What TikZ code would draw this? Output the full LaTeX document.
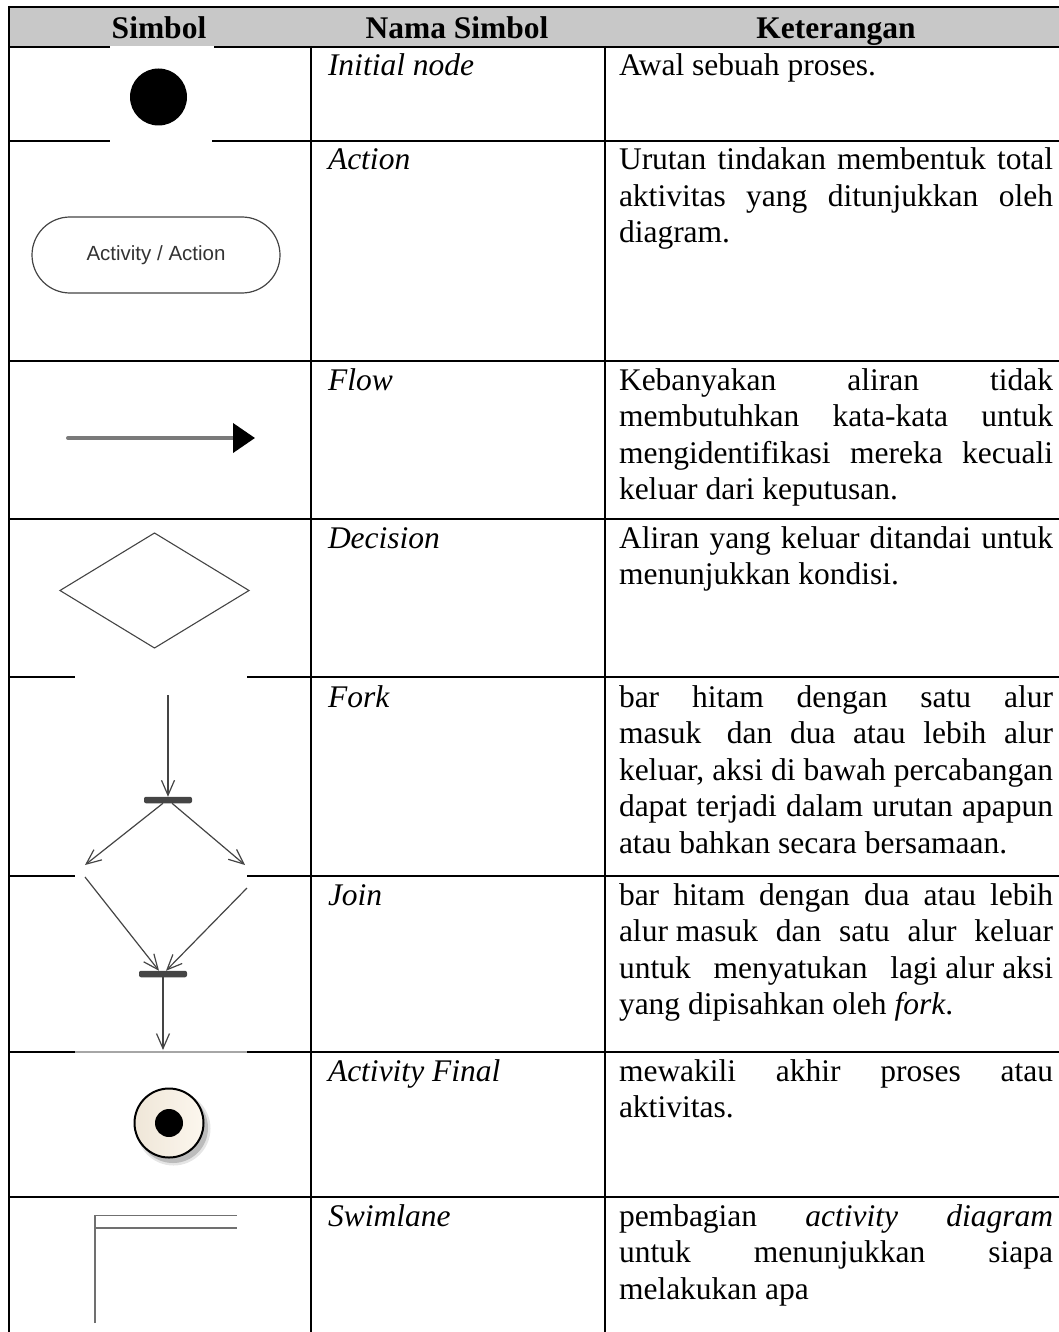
\documentclass[tikz,border=0pt]{standalone}
\usepackage{fontspec}
\setmainfont{Liberation Serif}
\newfontfamily\arialfont{Liberation Sans}
\usetikzlibrary{arrows.meta,shapes.geometric,calc}
\definecolor{hdr}{HTML}{C8C8C8}
\definecolor{symline}{HTML}{444444}
\definecolor{barcol}{HTML}{454545}
\definecolor{flowgray}{HTML}{7A7A7A}
\definecolor{lanegray}{HTML}{707070}
\definecolor{beigeL}{HTML}{EFE6D8}
\definecolor{beigeR}{HTML}{FCF7EE}
\definecolor{acttext}{HTML}{333333}
\newcommand{\JL}[1]{\hbox to 434pt{#1}}
\newcommand{\NL}[1]{\hbox{#1}}
\begin{document}
\begin{tikzpicture}[x=1pt,y=-1pt,
  every node/.style={font=\fontsize{31.5}{36.5}\selectfont, inner sep=0pt, outer sep=0pt},
  tline/.style={line width=2pt, black},
  namecell/.style={anchor=base west, font=\fontsize{31.5}{36.5}\selectfont\itshape},
  desccell/.style={anchor=base west},
  headcell/.style={anchor=base, font=\fontsize{31.5}{36.5}\selectfont\bfseries},
  umlline/.style={line width=1.2pt, symline},
  umlarrow/.style={umlline, -{Straight Barb[length=15pt,width=13pt,line width=1.2pt]}},
  barnode/.style={fill=barcol, rounded corners=2pt, minimum width=48pt, minimum height=6.5pt}
]
\useasboundingbox (0,0) rectangle (1059,1332);
% header
\fill[hdr] (9,7) rectangle (1059,46);
\draw[tline] (8,7) -- (1059,7);
% horizontal lines
\draw[tline] (8,47) -- (110,47);
\draw[tline] (214,47) -- (1059,47);
\draw[tline] (8,141) -- (110,141);
\draw[tline] (212,141) -- (1059,141);
\draw[tline] (8,361) -- (1059,361);
\draw[tline] (8,519) -- (1059,519);
\draw[tline] (8,677) -- (75,677);
\draw[tline] (247,677) -- (1059,677);
\draw[tline] (8,876) -- (75,876);
\draw[tline] (247,876) -- (1059,876);
\draw[tline] (8,1052) -- (75,1052);
\draw[line width=2pt, color=gray!70] (75,1052) -- (247,1052);
\draw[tline] (247,1052) -- (1059,1052);
\draw[tline] (8,1197) -- (1059,1197);
% vertical lines
\draw[line width=2.4pt] (9,6) -- (9,1332);
\draw[tline] (310.5,46) -- (310.5,1332);
\draw[tline] (605,46) -- (605,1332);

% header texts
\node[headcell] (h1) at (159,39) {Simbol};
\node[headcell] (h2) at (457,39) {Nama Simbol};
\node[headcell] (h3) at (836,39) {Keterangan};

% names
\node[namecell] (n1) at (328,76) {Initial node};
\node[namecell] (n2) at (328,170) {Action};
\node[namecell] (n3) at (328,390) {Flow};
\node[namecell] (n4) at (328,548) {Decision};
\node[namecell] (n5) at (328,707) {Fork};
\node[namecell] (n6) at (328,905) {Join};
\node[namecell] (n7) at (328,1081) {Activity Final};
\node[namecell] (n8) at (328,1226) {Swimlane};

% descriptions
\node[desccell] (d1) at (619,76) {Awal sebuah proses.};
\node[desccell] (d2) at (619,170) {\vtop{\JL{Urutan tindakan membentuk total}\JL{aktivitas yang ditunjukkan oleh}\NL{diagram.}}};
\node[desccell] (d3) at (619,390) {\vtop{\JL{Kebanyakan aliran tidak}\JL{membutuhkan kata-kata untuk}\JL{mengidentifikasi mereka kecuali}\NL{keluar dari keputusan.}}};
\node[desccell] (d4) at (619,548) {\vtop{\JL{Aliran yang keluar ditandai untuk}\NL{menunjukkan kondisi.}}};
\node[desccell] (d5) at (619,707) {\vtop{\JL{bar hitam dengan satu alur}\JL{masuk \hskip 8pt dan dua atau lebih alur}\JL{keluar, aksi di bawah percabangan}\JL{dapat terjadi dalam urutan apapun}\NL{atau bahkan secara bersamaan.}}};
\node[desccell] (d6) at (619,905) {\vtop{\JL{bar hitam dengan dua atau lebih}\JL{alur masuk \hfill dan \hfill satu \hfill alur \hfill keluar}\JL{untuk \hfill menyatukan \hfill lagi alur aksi}\NL{yang dipisahkan oleh \textit{fork}.}}};
\node[desccell] (d7) at (619,1081) {\vtop{\JL{mewakili akhir proses atau}\NL{aktivitas.}}};
\node[desccell] (d8) at (619,1226) {\vtop{\JL{pembagian \textit{activity} \textit{diagram}}\JL{untuk menunjukkan siapa}\NL{melakukan apa}}};

% --- symbols ---
% initial node
\node[circle, fill=black, minimum size=57pt] (init) at (158.5,97) {};
% action
\node[draw=symline, line width=1.2pt, rounded corners=38pt, minimum width=248pt, minimum height=76pt,
      font=\arialfont\fontsize{20.5}{23}\selectfont, text=acttext] (act) at (156,255) {Activity / Action};
% flow
\coordinate (fs) at (68,438);
\coordinate (fe) at (255,438);
\draw[line width=4pt, flowgray, line cap=round, -{Triangle[length=22pt,width=29pt,color=black]}] (fs) -- (fe);
% decision
\node[diamond, draw=symline, line width=1.1pt, minimum width=189pt, minimum height=115pt] (dec) at (154.5,590.5) {};
% fork
\coordinate (fk0) at (168,695);
\node[barnode] (fbar) at (168,800) {};
\coordinate (fkL) at (85,865);
\coordinate (fkR) at (245,865);
\draw[umlarrow] (fk0) -- (fbar.north);
\draw[umlarrow] ([xshift=-5pt]fbar.south) -- (fkL);
\draw[umlarrow] ([xshift=4pt]fbar.south) -- (fkR);
% join
\coordinate (jnL) at (85,877);
\coordinate (jnR) at (247,888);
\node[barnode] (jbar) at (163,974) {};
\coordinate (jnE) at (163,1050);
\draw[umlarrow] (jnL) -- ([xshift=-4pt]jbar.north);
\draw[umlarrow] (jnR) -- ([xshift=3pt]jbar.north);
\draw[umlarrow] (jbar.south) -- (jnE);
% activity final
\fill[black, opacity=0.10] (173.5,1128.5) circle (37pt);
\fill[black, opacity=0.18] (173,1128) circle (35pt);
\shade[left color=beigeL, right color=beigeR] (169,1123) circle (34.5pt);
\node[circle, draw=black, line width=2pt, minimum size=69pt] (fin) at (169,1123) {};
\node[circle, fill=black, minimum size=28pt] (findot) at (fin.center) {};
% swimlane
\coordinate (sw0) at (95,1323);
\coordinate (sw1) at (95,1215.5);
\coordinate (sw2) at (237,1215.5);
\coordinate (sw3) at (95,1228);
\coordinate (sw4) at (237,1228);
\draw[line width=1.6pt, lanegray] (sw0) -- (sw1) -- (sw2);
\draw[line width=1.6pt, lanegray] (sw3) -- (sw4);
\end{tikzpicture}
\end{document}
